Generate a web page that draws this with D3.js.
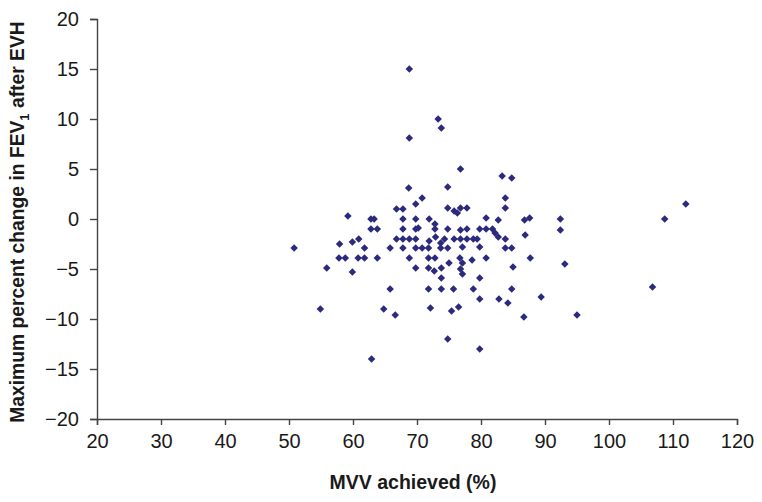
<!DOCTYPE html>
<html>
<head>
<meta charset="utf-8">
<script src="https://cdn.jsdelivr.net/npm/d3@7"></script>
<style>
  body { margin: 0; background: #fff; }
  text { font-family: "Liberation Sans", Arial, sans-serif; fill: #1a1a1a; }
</style>
</head>
<body>
<div id="chart"></div>
<script>
// MVV achieved (%) for each subject
const mvv = [
    68.8, 73.3, 73.8, 68.8, 76.8, 83.3, 84.8, 68.7, 74.8, 70.8,
    69.8, 83.8, 83.8, 66.8, 67.8, 74.8, 75.8, 76.3, 76.8, 77.8,
    59.2, 62.8, 63.3, 67.8, 69.8, 71.9, 80.8, 82.7, 86.8, 87.6,
    92.4, 92.4, 72.8, 62.8, 63.8, 67.8, 69.8, 70.2, 72.8, 74.8,
    76.8, 77.8, 79.8, 80.8, 81.8, 82.2, 82.7, 83.8, 86.9, 60.9,
    59.9, 57.9, 66.8, 67.8, 68.8, 69.8, 71.9, 72.9, 73.7, 74.3,
    75.8, 76.8, 77.8, 78.8, 79.4, 50.8, 61.8, 65.8, 67.8, 69.8,
    70.8, 71.8, 73.7, 74.8, 77.1, 79.8, 83.8, 84.8, 57.8, 58.8,
    60.8, 61.8, 63.8, 68.8, 71.8, 72.8, 76.7, 75.0, 78.6, 80.8,
    87.7, 93.1, 55.9, 59.9, 69.8, 71.8, 72.7, 73.8, 76.8, 77.1,
    85.0, 73.8, 79.8, 65.8, 71.8, 73.8, 75.7, 78.8, 84.8, 106.8,
    79.8, 82.8, 84.2, 89.4, 54.9, 64.8, 66.6, 72.1, 75.4, 76.5,
    86.7, 95.0, 74.8, 79.8, 62.9, 112.0, 108.7, 77.1
];
// maximum percent change in FEV1 after EVH, same order
const fevChange = [
    15.0, 10.0, 9.1, 8.1, 5.0, 4.3, 4.1, 3.1, 3.2, 2.1,
    1.5, 2.1, 1.1, 1.0, 1.0, 1.1, 0.8, 0.6, 1.1, 1.1,
    0.3, 0.0, 0.0, 0.0, 0.0, 0.0, 0.1, -0.1, -0.1, 0.1,
    0.0, -1.1, -0.5, -1.0, -1.0, -1.0, -1.0, -0.9, -1.0, -1.0,
    -1.1, -1.0, -1.0, -1.0, -1.0, -1.4, -1.8, -2.0, -1.6, -2.0,
    -2.3, -2.5, -2.0, -2.0, -2.0, -2.0, -2.2, -1.8, -2.4, -2.0,
    -2.0, -2.0, -2.0, -2.0, -2.0, -2.9, -2.9, -2.9, -2.9, -2.9,
    -2.9, -2.9, -2.9, -2.9, -2.8, -2.8, -2.9, -2.9, -3.9, -3.9,
    -3.9, -3.9, -3.9, -3.9, -3.9, -3.9, -3.9, -4.4, -4.1, -3.9,
    -3.9, -4.5, -4.9, -5.3, -4.9, -4.9, -5.2, -4.9, -5.0, -5.5,
    -4.8, -5.9, -5.9, -7.0, -7.0, -7.0, -7.0, -7.0, -7.0, -6.8,
    -8.0, -8.0, -8.4, -7.8, -9.0, -9.0, -9.6, -8.9, -9.2, -8.8,
    -9.8, -9.6, -12.0, -13.0, -14.0, 1.5, 0.0, -4.4
];
const xTicks = [20, 30, 40, 50, 60, 70, 80, 90, 100, 110, 120];
const yTicks = [-20, -15, -10, -5, 0, 5, 10, 15, 20];

const points = mvv.map((v, i) => ({x: v, y: fevChange[i]}));

const width = 762;
const height = 502;
const margin = {top: 19, right: 25, bottom: 83, left: 97};

const svg = d3.select("#chart")
    .append("svg")
    .attr("width", width)
    .attr("height", height);

const x = d3.scaleLinear()
    .domain([20, 120])
    .range([margin.left, width - margin.right]);

const y = d3.scaleLinear()
    .domain([-20, 20])
    .range([height - margin.bottom, margin.top]);

// axes
const xAxis = svg.append("g")
    .attr("transform", `translate(0,${height - margin.bottom})`)
    .call(d3.axisBottom(x).tickValues(xTicks).tickSizeOuter(0).tickSize(6).tickPadding(9));

const yAxis = svg.append("g")
    .attr("transform", `translate(${margin.left},0)`)
    .call(d3.axisLeft(y).tickValues(yTicks).tickSizeOuter(0).tickSize(7).tickPadding(11)
        .tickFormat(d => d < 0 ? "\u2212" + Math.abs(d) : d));

[xAxis, yAxis].forEach(ax => {
    ax.select(".domain").attr("stroke", "#444").attr("stroke-width", 1.4);
    ax.selectAll(".tick line").attr("stroke", "#444").attr("stroke-width", 1.4);
    ax.selectAll(".tick text")
        .style("font-family", '"Liberation Sans", Arial, sans-serif')
        .style("font-size", "20px")
        .attr("fill", "#1a1a1a");
});

// points
svg.append("g")
    .selectAll("path")
    .data(points)
    .join("path")
    .attr("d", d3.symbol(d3.symbolSquare, 28))
    .attr("transform", d => `translate(${x(d.x)},${y(d.y)}) rotate(45)`)
    .attr("fill", "#2b2a7c");

// axis titles
svg.append("text")
    .attr("x", 413)
    .attr("y", 489)
    .attr("text-anchor", "middle")
    .style("font-size", "19.5px")
    .style("font-weight", "bold")
    .text("MVV achieved (%)");

const yTitle = svg.append("text")
    .attr("transform", `translate(24,${(margin.top + height - margin.bottom) / 2 + 3}) rotate(-90)`)
    .attr("text-anchor", "middle")
    .style("font-size", "19.3px")
    .style("font-weight", "bold");
yTitle.append("tspan").text("Maximum percent change in FEV");
yTitle.append("tspan").attr("dy", 5).style("font-size", "13px").text("1");
yTitle.append("tspan").attr("dy", -5).text(" after EVH");
</script>
</body>
</html>
